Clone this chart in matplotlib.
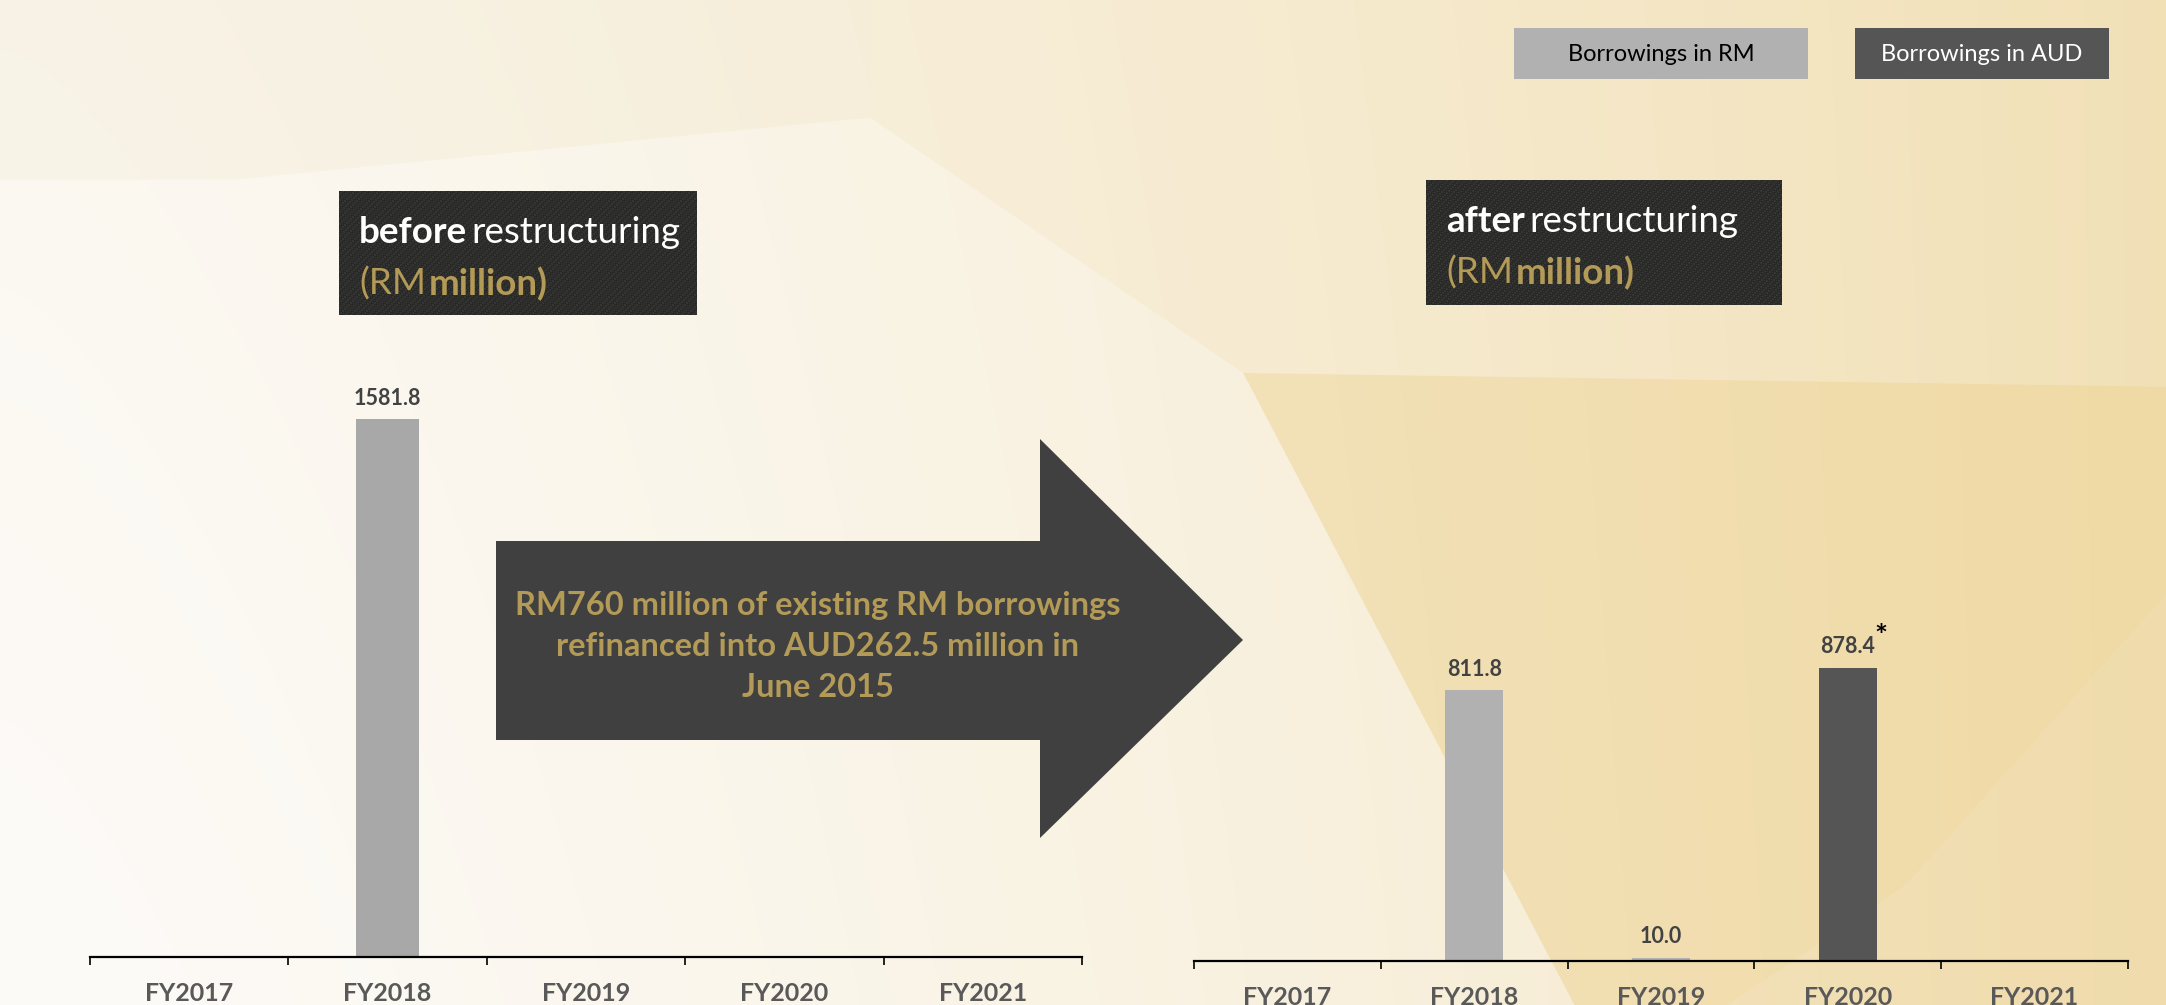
import numpy as np
import matplotlib.pyplot as plt
from matplotlib.patches import Polygon, Rectangle

plt.rcParams["font.family"] = ["Lato", "DejaVu Sans"]

# borrowings, RM million
years = ["FY2017", "FY2018", "FY2019", "FY2020", "FY2021"]
before_rm = [0, 1581.8, 0, 0, 0]
after_rm = [0, 811.8, 10.0, 0, 0]
after_aud = [0, 0, 0, 878.4, 0]
starred = "FY2020"

legend_labels = ["Borrowings in RM", "Borrowings in AUD"]
arrow_note = "RM760 million of existing RM borrowings\nrefinanced into AUD262.5 million in\nJune 2015"

GOLD = "#b39a56"
RM_GREY = "#b1b1b1"
AUD_GREY = "#555555"
LABEL = "#424242"

W, H = 2166, 1005
fig = plt.figure(figsize=(W / 100, H / 100), dpi=100)

# full-figure canvas in pixel units for the decorative layer
bg = fig.add_axes([0, 0, 1, 1], zorder=0)
bg.set_xlim(0, W)
bg.set_ylim(H, 0)
bg.axis("off")

yy, xx = np.mgrid[0:H:4, 0:W:4]
t = np.clip(0.95 * (xx / W) ** 1.3 + 0.15 * (1 - yy / H) * (1 - xx / W), 0, 1)[..., None]
c0 = np.array([252, 250, 246]) / 255
c1 = np.array([241, 222, 176]) / 255
bg.imshow(c0 * (1 - t) + c1 * t, extent=(0, W, H, 0), aspect="auto",
          interpolation="bicubic", zorder=0)

s = W / 1568
facets = [
    ([(900, 270), (1568, 280), (1568, 430), (1380, 640), (1250, 728), (1140, 728)],
     (0.93, 0.82, 0.56), 0.4),
    ([(0, 130), (170, 130), (630, 85), (900, 270), (1140, 728), (0, 728)],
     (1, 1, 1), 0.25),
    ([(0, 0), (630, 0), (630, 85), (170, 130), (0, 130)], (0.95, 0.91, 0.82), 0.18),
    ([(630, 0), (1568, 0), (1568, 280), (900, 270), (630, 85)], (0.97, 0.92, 0.80), 0.15),
    ([(1380, 640), (1568, 430), (1568, 728), (1250, 728)], (0.93, 0.82, 0.58), 0.25),
]
for pts, col, a in facets:
    bg.add_patch(Polygon([(x * s, y * s) for x, y in pts], closed=True,
                         fc=col, ec="none", alpha=a, zorder=1))

# refinancing arrow
arrow = [(496, 541), (1040, 541), (1040, 439), (1243, 640),
         (1040, 838), (1040, 740), (496, 740)]
bg.add_patch(Polygon(arrow, closed=True, fc="#404040", ec="none", zorder=2))
bg.text(818, 646, arrow_note, ha="center", va="center", color=GOLD,
        fontsize=23.5, fontweight="bold", linespacing=1.5, zorder=3)


def title_box(x0, y0, w, h, word):
    bg.add_patch(Rectangle((x0, y0), w, h, fc="#2d2c2a", ec="none", zorder=2))
    # woven texture on the dark panel
    jj, ii = np.mgrid[0:int(h), 0:int(w)]
    tex = 0.16 + 0.05 * (((ii + jj) % 3 == 0) ^ ((ii - jj) % 4 == 0))
    bg.imshow(np.dstack([tex, tex, tex * 0.97]), extent=(x0, x0 + w, y0 + h, y0),
              aspect="auto", interpolation="nearest", zorder=2.5)
    t1 = bg.text(x0 + 20, y0 + 52, word, color="white", fontsize=26.5,
                 fontweight="bold", va="baseline", ha="left", zorder=3)
    bg.annotate("restructuring", xy=(1, 0), xycoords=t1, xytext=(3, 0),
                textcoords="offset points", color="white", fontsize=26.5,
                va="bottom", ha="left", zorder=3)
    t2 = bg.text(x0 + 20, y0 + 104, "(RM", color=GOLD, fontsize=26.5,
                 va="baseline", ha="left", zorder=3)
    bg.annotate("million)", xy=(1, 0), xycoords=t2, xytext=(2, 0),
                textcoords="offset points", color=GOLD, fontsize=26.5,
                fontweight="bold", va="bottom", ha="left", zorder=3)


title_box(339, 191, 358, 124, "before")
title_box(1426, 180, 356, 125, "after")

# legend swatches
for (x0, x1), lab, fc, tc in zip([(1514, 1808), (1855, 2109)], legend_labels,
                                 [RM_GREY, AUD_GREY], ["black", "white"]):
    bg.add_patch(Rectangle((x0, 28), x1 - x0, 51, fc=fc, ec="none", zorder=2))
    bg.text((x0 + x1) / 2, 54, lab, ha="center", va="center", color=tc,
            fontsize=17, zorder=3)


def bar_panel(rect, ymax, series, width):
    ax = fig.add_axes([rect[0] / W, (H - rect[1]) / H, (rect[2] - rect[0]) / W, 600 / H],
                      zorder=3)
    ax.patch.set_alpha(0)
    x = np.arange(len(years))
    for vals, col in series:
        v = np.array(vals, dtype=float)
        v[v == 0] = np.nan
        ax.bar(x, v, width=width, color=col, zorder=2)
        for xi, vi in zip(x, vals):
            if vi:
                ax.annotate(f"{vi:.1f}", (xi, vi), xytext=(0, 15), textcoords="offset points",
                            ha="center", va="center", fontsize=15.5, fontweight="bold",
                            color=LABEL)
    ax.set_xlim(-0.5, len(years) - 0.5)
    ax.set_ylim(0, ymax)
    for side in ["left", "right", "top"]:
        ax.spines[side].set_visible(False)
    ax.spines["bottom"].set_linewidth(1.6)
    ax.set_yticks([])
    ax.set_xticks(np.arange(len(years) + 1) - 0.5)
    ax.set_xticklabels([])
    ax.tick_params(axis="x", which="major", direction="out", length=6, width=1.2)
    ax.set_xticks(x, minor=True)
    ax.set_xticklabels(years, minor=True, fontsize=18, fontweight="bold", color="#595959")
    ax.tick_params(axis="x", which="minor", length=0, pad=18)
    return ax


bar_panel((90, 957, 1082), 600 / 0.3401, [(before_rm, "#a8a8a8")], 0.32)
ax2 = bar_panel((1194, 961, 2128), 600 / 0.3338,
                [(after_rm, RM_GREY), (after_aud, AUD_GREY)], 0.31)
i = years.index(starred)
ax2.annotate("*", (i, after_aud[i]), xytext=(24, 22), textcoords="offset points",
             ha="center", va="center", fontsize=22, fontweight="bold", color="black")

fig.savefig("out.png", dpi=100)
